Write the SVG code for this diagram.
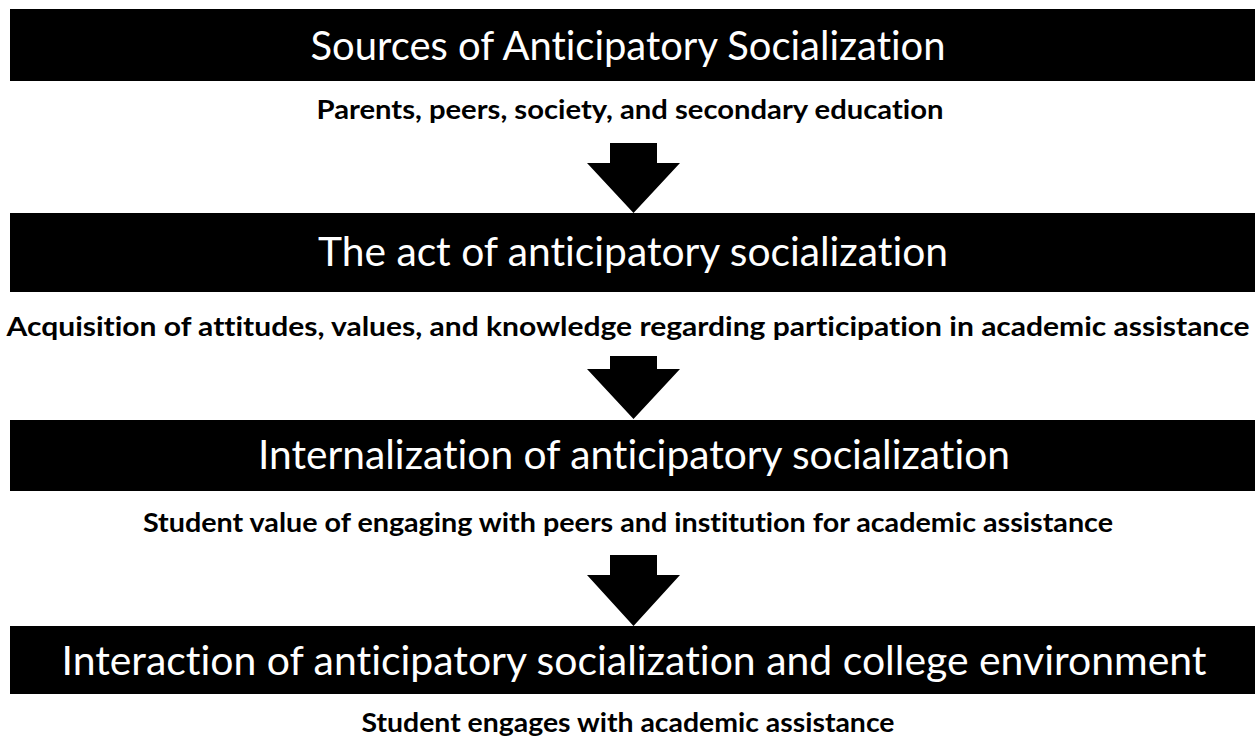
<svg xmlns="http://www.w3.org/2000/svg" width="1255" height="755" viewBox="0 0 1255 755">
  <style>
    .bar { fill: #000; }
    .title { font-family: Lato, "Open Sans", "Liberation Sans", sans-serif; font-size: 41px; fill: #fff; text-anchor: middle; font-variant-ligatures: none; }
    .sub { font-family: Lato, "Open Sans", "Liberation Sans", sans-serif; font-size: 27px; font-weight: bold; fill: #000; text-anchor: middle; font-variant-ligatures: none; }
    .arrow { fill: #000; }
  </style>
  <rect width="1255" height="755" fill="#fff"/>

  <g id="stage-sources">
    <rect class="bar" x="10" y="9" width="1245" height="72"/>
    <text class="title" x="628" y="60" textLength="635" lengthAdjust="spacingAndGlyphs">Sources of Anticipatory Socialization</text>
    <text class="sub" x="630" y="119" textLength="627" lengthAdjust="spacingAndGlyphs">Parents, peers, society, and secondary education</text>
  </g>

  <g id="stage-act">
    <rect class="bar" x="10" y="213" width="1245" height="79"/>
    <text class="title" x="633" y="266" textLength="630" lengthAdjust="spacingAndGlyphs">The act of anticipatory socialization</text>
    <text class="sub" x="628" y="336" textLength="1243" lengthAdjust="spacingAndGlyphs">Acquisition of attitudes, values, and knowledge regarding participation in academic assistance</text>
  </g>

  <g id="stage-internalization">
    <rect class="bar" x="10" y="420" width="1245" height="71"/>
    <text class="title" x="634" y="469" textLength="752" lengthAdjust="spacingAndGlyphs">Internalization of anticipatory socialization</text>
    <text class="sub" x="628" y="532" textLength="970" lengthAdjust="spacingAndGlyphs">Student value of engaging with peers and institution for academic assistance</text>
  </g>

  <g id="stage-interaction">
    <rect class="bar" x="10" y="626" width="1245" height="68"/>
    <text class="title" x="634" y="675" textLength="1145" lengthAdjust="spacingAndGlyphs">Interaction of anticipatory socialization and college environment</text>
    <text class="sub" x="628" y="732" textLength="533" lengthAdjust="spacingAndGlyphs">Student engages with academic assistance</text>
  </g>

  <g id="connectors">
    <polygon class="arrow" points="610,143 657,143 657,163 680,163 633.5,213 587,163 610,163"/>
    <polygon class="arrow" points="610,356 657,356 657,369 680,369 633.5,419 587,369 610,369"/>
    <polygon class="arrow" points="610,555 657,555 657,575 680,575 633.5,626 587,575 610,575"/>
  </g>
</svg>
